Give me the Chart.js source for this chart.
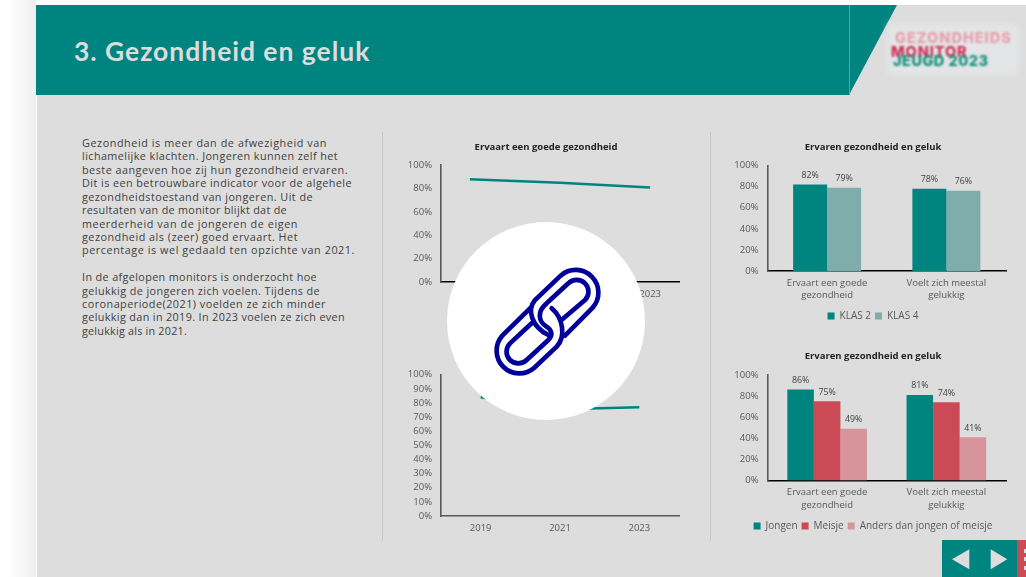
<!DOCTYPE html>
<html lang="nl"><head><meta charset="utf-8"><title>Gezondheid en geluk</title>
<script src="https://cdn.jsdelivr.net/npm/chart.js@4/dist/chart.umd.min.js"></script>
<style>
html,body{margin:0;padding:0;width:1026px;height:577px;overflow:hidden;background:#fff;font-family:"Open Sans",sans-serif}
#page{position:absolute;inset:0;overflow:hidden;filter:blur(.3px)}
#shadow{position:absolute;left:0;top:0;width:36px;height:577px;background:linear-gradient(90deg,#fff 0,#fff 8px,#eeeeee 36px)}
#slide{position:absolute;left:37px;top:5px;right:0;bottom:0;background:#dddddd}
#head{position:absolute;left:36px;top:5px;width:861px;height:90px;background:#008480;clip-path:polygon(0 0,100% 0,813px 100%,0 100%)}
#headline{position:absolute;left:849px;top:5px;width:1px;height:90px;background:#4fa5a2}
#h1{position:absolute;left:74px;top:33px;margin:0;font:700 26.5px/36px Lato,sans-serif;color:#dcdcdc;white-space:nowrap;letter-spacing:.97px}
.l{position:absolute;left:82px;font:10.8px/14px "Open Sans",sans-serif;color:#404040;white-space:nowrap}
.rule{position:absolute;top:132px;width:1px;height:409px;background:#c6c6c6}
canvas{position:absolute;display:block}
#patch{position:absolute;left:888px;top:24px;width:130px;height:50px;background:#e3e5e7;filter:blur(3px)}
.logo{position:absolute;font-family:Inter,sans-serif;font-weight:800;white-space:nowrap;filter:blur(.9px)}
#circle{position:absolute;left:447px;top:222px;width:198px;height:198px;border-radius:50%;background:#fff}
#link{position:absolute;left:480px;top:255px}
#nav{position:absolute;left:942px;top:540px}
</style></head><body>
<div id="page">
<div id="shadow"></div><div id="slide"></div><div id="head"></div><div id="headline"></div>
<h1 id="h1">3. Gezondheid en geluk</h1>
<div id="patch"></div>
<div class="logo" style="left:895px;top:29px;font-size:14.5px;color:#e79fad;letter-spacing:1px">GEZONDHEIDS</div>
<div class="logo" style="left:891px;top:43px;font-size:14.5px;color:#cf2f55;letter-spacing:.9px">MONITOR</div>
<div class="logo" style="left:893px;top:52px;font-size:14.5px;color:#0f8f78;letter-spacing:.5px">JEUGD 2023</div>
<div id="text"></div>
<div class="rule" style="left:382px"></div><div class="rule" style="left:710px"></div>
<canvas id="c1" width="322" height="172" style="left:385px;top:135px"></canvas>
<canvas id="c2" width="322" height="181" style="left:385px;top:360px"></canvas>
<canvas id="c3" width="306" height="196" style="left:720px;top:135px"></canvas>
<canvas id="c4" width="306" height="196" style="left:720px;top:345px"></canvas>
<svg id="nav" width="84" height="37" viewBox="0 0 84 37">
<rect width="76" height="37" fill="#008480"/><rect x="75" width="9" height="37" fill="#cc4a56"/>
<path d="M10 19.3 27.3 9.3V29.3Z M48.7 9.3 65.3 19.3 48.7 29.3Z" fill="#dddddd"/>
<rect x="82" y="9" width="2" height="4" fill="#ddd"/><rect x="82" y="17" width="2" height="4" fill="#ddd"/><rect x="82" y="26" width="2" height="4" fill="#ddd"/>
</svg>
</div>
<div id="circle"></div>
<svg id="link" width="135" height="130" viewBox="0 0 405 390" fill="none" stroke="#00009b" stroke-width="14" stroke-linecap="round">
<path d="M255 242 338 158A68 68 0 0 0 242 62L165 135C140 165 155 215 205 240"/>
<path d="M248 192 315 135A35 35 0 0 0 265 85L200 145C170 170 175 200 200 215 215 225 220 240 205 255L140 315A35 35 0 0 1 90 265L155 205"/>
<path d="M150 160 67 242A68 68 0 0 0 163 338L230 275C258 245 250 190 215 160"/>
</svg>
<script>
// ---- text ----
const paragraphLines = [
 "Gezondheid is meer dan de afwezigheid van","lichamelijke klachten. Jongeren kunnen zelf het",
 "beste aangeven hoe zij hun gezondheid ervaren.","Dit is een betrouwbare indicator voor de algehele",
 "gezondheidstoestand van jongeren. Uit de","resultaten van de monitor blijkt dat de",
 "meerderheid van de jongeren de eigen","gezondheid als (zeer) goed ervaart. Het",
 "percentage is wel gedaald ten opzichte van 2021.","",
 "In de afgelopen monitors is onderzocht hoe","gelukkig de jongeren zich voelen. Tijdens de",
 "coronaperiode(2021) voelden ze zich minder","gelukkig dan in 2019. In 2023 voelen ze zich even",
 "gelukkig als in 2021."];
const lineEnds = [327,338,348,352,313,287,298,298,355,0,317,320,326,345,187];

// ---- data ----
const years = [2019, 2021, 2023];
const goodHealth = [88, 85, 81];
const happy = [84, 75.5, 77];
const pctTicks = v => v + '%';
const barCategories = [['Ervaart een goede','gezondheid'],['Voelt zich meestal','gelukkig']];
const klas2 = [82, 78];
const klas4 = [79, 76];
const jongen = [86, 81];
const meisje = [75, 74];
const anders = [49, 41];
const chartTitle1 = 'Ervaart een goede gezondheid';
const chartTitle2 = 'Ervaren gezondheid en geluk';

const TEAL='#008480', TEAL2='#7fadab', RED='#cc4a56', PINK='#d5959a', GREY='#595959';

const box=document.getElementById('text');
paragraphLines.forEach((t,i)=>{
  if(!t) return;
  const d=document.createElement('div');d.className='l';d.textContent=t;
  d.style.top=(136+i*13.42)+'px';box.appendChild(d);
  const w=d.getBoundingClientRect().width;
  d.style.letterSpacing=((lineEnds[i]-82-w)/t.length)+'px';
});

// ---- charts ----
Chart.defaults.font.family='"Open Sans", sans-serif';
Chart.defaults.animation=false;
Chart.defaults.responsive=false;
const barLabels={id:'barLabels',afterDatasetsDraw(c){
  const x=c.ctx;x.save();x.font='8.8px "Open Sans", sans-serif';x.fillStyle='#404040';x.textAlign='center';x.textBaseline='middle';
  c.data.datasets.forEach((d,i)=>c.getDatasetMeta(i).data.forEach((b,j)=>x.fillText(d.data[j]+'%',b.x,b.y-9)));
  x.restore();}};
const yScale=(w,step)=>({min:0,max:100,afterFit:s=>{s.width=w},grid:{display:false,drawTicks:false},
  border:{color:GREY,width:1.6},ticks:{stepSize:step,autoSkip:false,padding:9,color:GREY,font:{size:9.5},callback:pctTicks}});
// empty axis on the right: keeps the plot narrower while titles stay centred on the canvas
const spacer=w=>({position:'right',min:0,max:100,afterFit:s=>{s.width=w},grid:{display:false,drawTicks:false},
  border:{display:false},ticks:{display:false}});
const xBase=(h,col)=>({afterFit:s=>{s.height=h},grid:{display:false,drawTicks:false},
  border:{color:col,width:1.5},ticks:{padding:6,color:GREY,font:{size:9.5,lineHeight:1.3},maxRotation:0,autoSkip:false}});
const title=(text,top,bottom)=>({display:true,text,color:'#222',font:{size:9.5,weight:'bold'},padding:{top,bottom}});
const lineDs=d=>({data:d,borderColor:TEAL,borderWidth:2.4,pointRadius:0,tension:0});

new Chart('c1',{type:'line',
 data:{datasets:[lineDs(years.map((y,i)=>({x:y,y:goodHealth[i]})))]},
 options:{plugins:{legend:{display:false},title:title(chartTitle1,6.3,12.6)},
  scales:{x:Object.assign(xBase(25,'#000'),{type:'linear',min:2018.36,max:2023.64,
     afterBuildTicks:s=>{s.ticks=years.map(v=>({value:v}))},
     ticks:Object.assign(xBase(25,'#000').ticks,{callback:v=>String(v)})}),y:yScale(56,20),r:spacer(28)}}});
new Chart('c2',{type:'line',
 data:{labels:years,datasets:[lineDs(happy)]},
 options:{layout:{padding:{top:5}},plugins:{legend:{display:false}},
  scales:{x:Object.assign(xBase(25,GREY),{offset:true}),y:yScale(56,10),r:spacer(28)}}});

const legend={position:'bottom',labels:{boxWidth:7,boxHeight:7,padding:4,color:GREY,font:{size:10}}};
const barOpts=(cat,t1,t2,h)=>({plugins:{legend,title:title(chartTitle2,t1,t2)},
  scales:{x:xBase(h,'#000'),y:yScale(47.5,20),r:spacer(20)},datasets:{bar:{categoryPercentage:cat,barPercentage:1}}});
new Chart('c3',{type:'bar',plugins:[barLabels],
 data:{labels:barCategories,datasets:[
   {label:'KLAS 2',data:klas2,backgroundColor:TEAL},{label:'KLAS 4',data:klas4,backgroundColor:TEAL2}]},
 options:barOpts(.57,6.3,12.8,36)});
new Chart('c4',{type:'bar',plugins:[barLabels],
 data:{labels:barCategories,datasets:[
   {label:'Jongen',data:jongen,backgroundColor:TEAL},{label:'Meisje',data:meisje,backgroundColor:RED},
   {label:'Anders dan jongen of meisje',data:anders,backgroundColor:PINK}]},
 options:barOpts(.668,6,12.4,36.5)});
</script>
</body></html>
